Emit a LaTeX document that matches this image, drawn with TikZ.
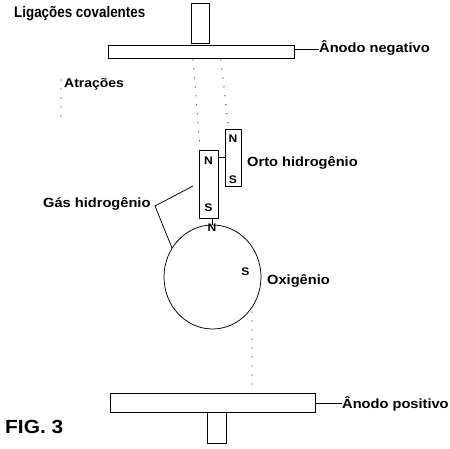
\documentclass[tikz,border=0pt]{standalone}
\usepackage{fontspec}
\setmainfont{Liberation Sans}[FakeStretch=1.1]
\newfontfamily\narrowsans{Liberation Sans}[FakeStretch=0.87]
\usetikzlibrary{shapes.geometric}
\tikzset{
  part/.style={draw, rectangle, inner sep=0pt, line width=0.75pt},
  lbl/.style={inner sep=0pt, anchor=base west, font=\fontsize{13.3}{15}\selectfont\bfseries},
  pole/.style={inner sep=0pt, font=\fontsize{11}{12}\selectfont\bfseries},
  wire/.style={line width=0.75pt},
  dots/.style={line width=1.3pt, line cap=round, dash pattern=on 0pt off 9pt, black!85}
}
\begin{document}
\begin{tikzpicture}[x=1pt,y=-1pt]
\useasboundingbox (0,0) rectangle (450,449);
% anodes
\node[part, minimum width=18pt, minimum height=40pt] (topstub) at (200,23) {};
\node[part, minimum width=186pt, minimum height=13pt] (topplate) at (201.5,51.5) {};
\node[part, minimum width=205pt, minimum height=19pt] (botplate) at (212.5,402.5) {};
\node[part, minimum width=19pt, minimum height=31pt] (botstub) at (216.5,427.5) {};
% magnets
\node[part, minimum width=16pt, minimum height=57pt] (orto) at (233,157.5) {};
\node[part, minimum width=19pt, minimum height=68pt] (gas) at (208.5,184) {};
\node[draw, ellipse, inner sep=0pt, line width=0.75pt, minimum width=97pt, minimum height=104pt] (oxy) at (212.5,277) {};
% poles
\node[pole] (ortoN) at (233,139) {N};
\node[pole] (ortoS) at (233,180) {S};
\node[pole] (gasN) at (208.5,161) {N};
\node[pole] (gasS) at (208.5,208) {S};
\node[pole] (oxyN) at (212,228) {N};
\node[pole] (oxyS) at (245.5,272) {S};
% labels
\node[lbl, font=\narrowsans\fontsize{15.4}{17}\selectfont\bfseries] (ligac) at (14,18) {Ligações covalentes};
\node[lbl] (anneg) at (319,53) {Ânodo negativo};
\node[lbl, font=\fontsize{12.7}{14}\selectfont\bfseries] (atrac) at (64,88) {Atrações};
\node[lbl] (ortol) at (247,167) {Orto hidrogênio};
\node[lbl] (gasl) at (43,208) {Gás hidrogênio};
\node[lbl] (oxyl) at (267,285) {Oxigênio};
\node[lbl] (anpos) at (342,408) {Ânodo positivo};
\node[lbl, font=\fontsize{19}{21}\selectfont\bfseries] (fig) at (5,433) {FIG. 3};
% connectors
\draw[wire] (topplate.east |- 0,49) -- (anneg.west |- 0,49);
\draw[wire] (botplate.east |- 0,403) -- (anpos.west |- 0,403);
\draw[wire] (gas.east |- 0,157) -- (orto.west |- 0,157);
\draw[wire] (212,218) -- (212,225);
\coordinate (gasend) at (155,206);
\coordinate (gasA) at (193,186);
\coordinate (gasB) at (172,248);
\draw[wire] (gasA) -- (gasend) -- (gasB);
% attraction dots
\coordinate (d1a) at (61,80);  \coordinate (d1b) at (61,122);
\coordinate (d2a) at (193,60); \coordinate (d2b) at (200,146);
\coordinate (d3a) at (221,60); \coordinate (d3b) at (228,124);
\coordinate (d4a) at (252,312); \coordinate (d4b) at (252,388);
\draw[dots] (d1a) -- (d1b);
\draw[dots] (d2a) -- (d2b);
\draw[dots] (d3a) -- (d3b);
\draw[dots] (d4a) -- (d4b);
\end{tikzpicture}
\end{document}
